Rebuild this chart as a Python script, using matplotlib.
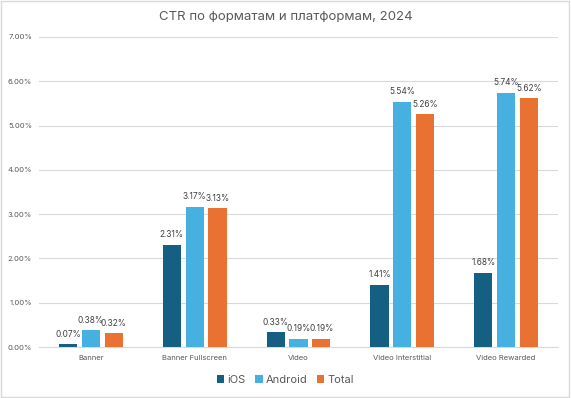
import numpy as np
import matplotlib.pyplot as plt
from matplotlib.patches import Rectangle

plt.rcParams['font.family'] = ['Inter', 'DejaVu Sans']

categories = ['Banner', 'Banner Fullscreen', 'Video', 'Video Interstitial', 'Video Rewarded']
ios = [0.07, 2.31, 0.33, 1.41, 1.68]
android = [0.38, 3.17, 0.19, 5.54, 5.74]
total = [0.32, 3.13, 0.19, 5.26, 5.62]
y_ticks = [0, 1, 2, 3, 4, 5, 6, 7]

series = [('iOS', ios, '#156082'), ('Android', android, '#46B1E1'), ('Total', total, '#E97132')]

fig = plt.figure(figsize=(5.71, 3.98), dpi=100)
ax = fig.add_axes([39 / 571, 51 / 398, 519 / 571, 310 / 398])

x = np.arange(len(categories))
width = 0.175
step = 0.22
for i, (name, vals, color) in enumerate(series):
    pos = x + (i - 1) * step
    bars = ax.bar(pos, vals, width, color=color, label=name, zorder=3)
    for b, v in zip(bars, vals):
        ax.text(b.get_x() + b.get_width() / 2, v + 0.12, f'{v:.2f}%',
                ha='center', va='bottom', fontsize=6, color='#404040')

ax.set_xlim(-0.5, len(categories) - 0.5)
ax.set_ylim(0, 7)
ax.set_yticks(y_ticks)
ax.set_yticklabels([f'{t:.2f}%' for t in y_ticks])
ax.set_xticks(x)
ax.set_xticklabels(categories)
ax.tick_params(axis='both', length=0, labelsize=5.5, labelcolor='#595959')
ax.tick_params(axis='x', pad=6)
ax.tick_params(axis='y', pad=5)
ax.grid(axis='y', color='#d9d9d9', linewidth=0.8, zorder=0)
for s in ['top', 'right', 'left']:
    ax.spines[s].set_visible(False)
ax.spines['bottom'].set_color('#d9d9d9')

fig.text(0.5, 1 - 17 / 398, 'CTR по форматам и платформам, 2024', ha='center', va='center',
         fontsize=9.5, color='#595959')
fig.legend(loc='center', bbox_to_anchor=(0.5, 1 - 380 / 398), ncol=3, frameon=False,
           fontsize=8, handlelength=0.7, handleheight=0.7, handletextpad=0.3,
           columnspacing=0.8, labelcolor='#595959')

fig.patches.append(Rectangle((0.002, 0.003), 0.995, 0.994, transform=fig.transFigure,
                             fill=False, edgecolor='#d9d9d9', linewidth=1))

fig.savefig('out.png', dpi=100)
